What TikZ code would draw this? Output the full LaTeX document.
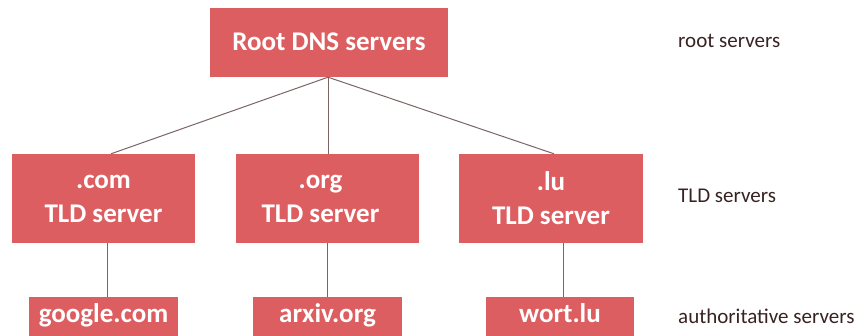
\documentclass[tikz,border=0pt]{standalone}
\usepackage{fontspec}
\setmainfont{Carlito}
\definecolor{boxred}{RGB}{221,94,96}
\definecolor{linkgray}{RGB}{122,100,100}
\definecolor{labelbrown}{RGB}{56,34,34}
\begin{document}
\begin{tikzpicture}[x=1pt,y=-1pt,
  server/.style={rectangle, fill=boxred, inner sep=0pt, text=white,
    font=\bfseries\fontsize{27}{34}\selectfont, align=center},
  servertext/.style={inner sep=0pt, text=white,
    font=\bfseries\fontsize{27}{34}\selectfont, align=center},
  link/.style={draw=linkgray, line width=1pt},
  tierlabel/.style={anchor=base west, inner sep=0pt, text=labelbrown,
    font=\fontsize{21}{25}\selectfont}]
  \useasboundingbox (0,0) rectangle (862,336);
  \clip (0,0) rectangle (862,336);

  % root tier
  \node[server, minimum width=238pt, minimum height=69pt,
        text height=17pt, text depth=0pt] (root) at (329,42.5) {Root DNS servers};

  % TLD tier
  \node[server, minimum width=183pt, minimum height=89pt] (com) at (103.5,198.5) {.com\\TLD server};
  \node[server, minimum width=183pt, minimum height=89pt] (org) at (327.5,198.5) {};
  \node[servertext] (orgtext) at ([xshift=-7pt]org.center) {.org\\TLD server};
  \node[server, minimum width=184pt, minimum height=89pt] (lu)  at (551,198.5)   {.lu\\TLD server};

  % authoritative tier (runs off the lower edge)
  \node[server, minimum width=149pt, minimum height=45pt,
        text height=17pt, text depth=10pt] (google) at (103.5,319.5) {google.com};
  \node[server, minimum width=149pt, minimum height=45pt,
        text height=17pt, text depth=10pt] (arxiv)  at (327.5,319.5) {arxiv.org};
  \node[server, minimum width=148pt, minimum height=45pt,
        text height=17pt, text depth=10pt] (wort)   at (560,319.5)   {wort.lu};

  % links between tiers
  \draw[link] ([xshift=-1pt]root.south) -- ([xshift=7.5pt]com.north);
  \draw[link] ([xshift=-1pt]root.south) -- ([xshift=0.5pt]org.north);
  \draw[link] ([xshift=-1pt]root.south) -- ([xshift=3pt]lu.north);
  \draw[link] ([xshift=3.5pt]com.south) -- ([xshift=3.5pt]google.north);
  \draw[link] ([xshift=-0.5pt]org.south) -- ([xshift=-0.5pt]arxiv.north);
  \draw[link] ([xshift=12pt]lu.south) -- ([xshift=3pt]wort.north);

  % tier names
  \node[tierlabel] (lroot) at (678,48)    {root servers};
  \node[tierlabel] (ltld)  at (678,202.7) {TLD servers};
  \node[tierlabel] (lauth) at (678,324)   {authoritative servers};
\end{tikzpicture}
\end{document}
